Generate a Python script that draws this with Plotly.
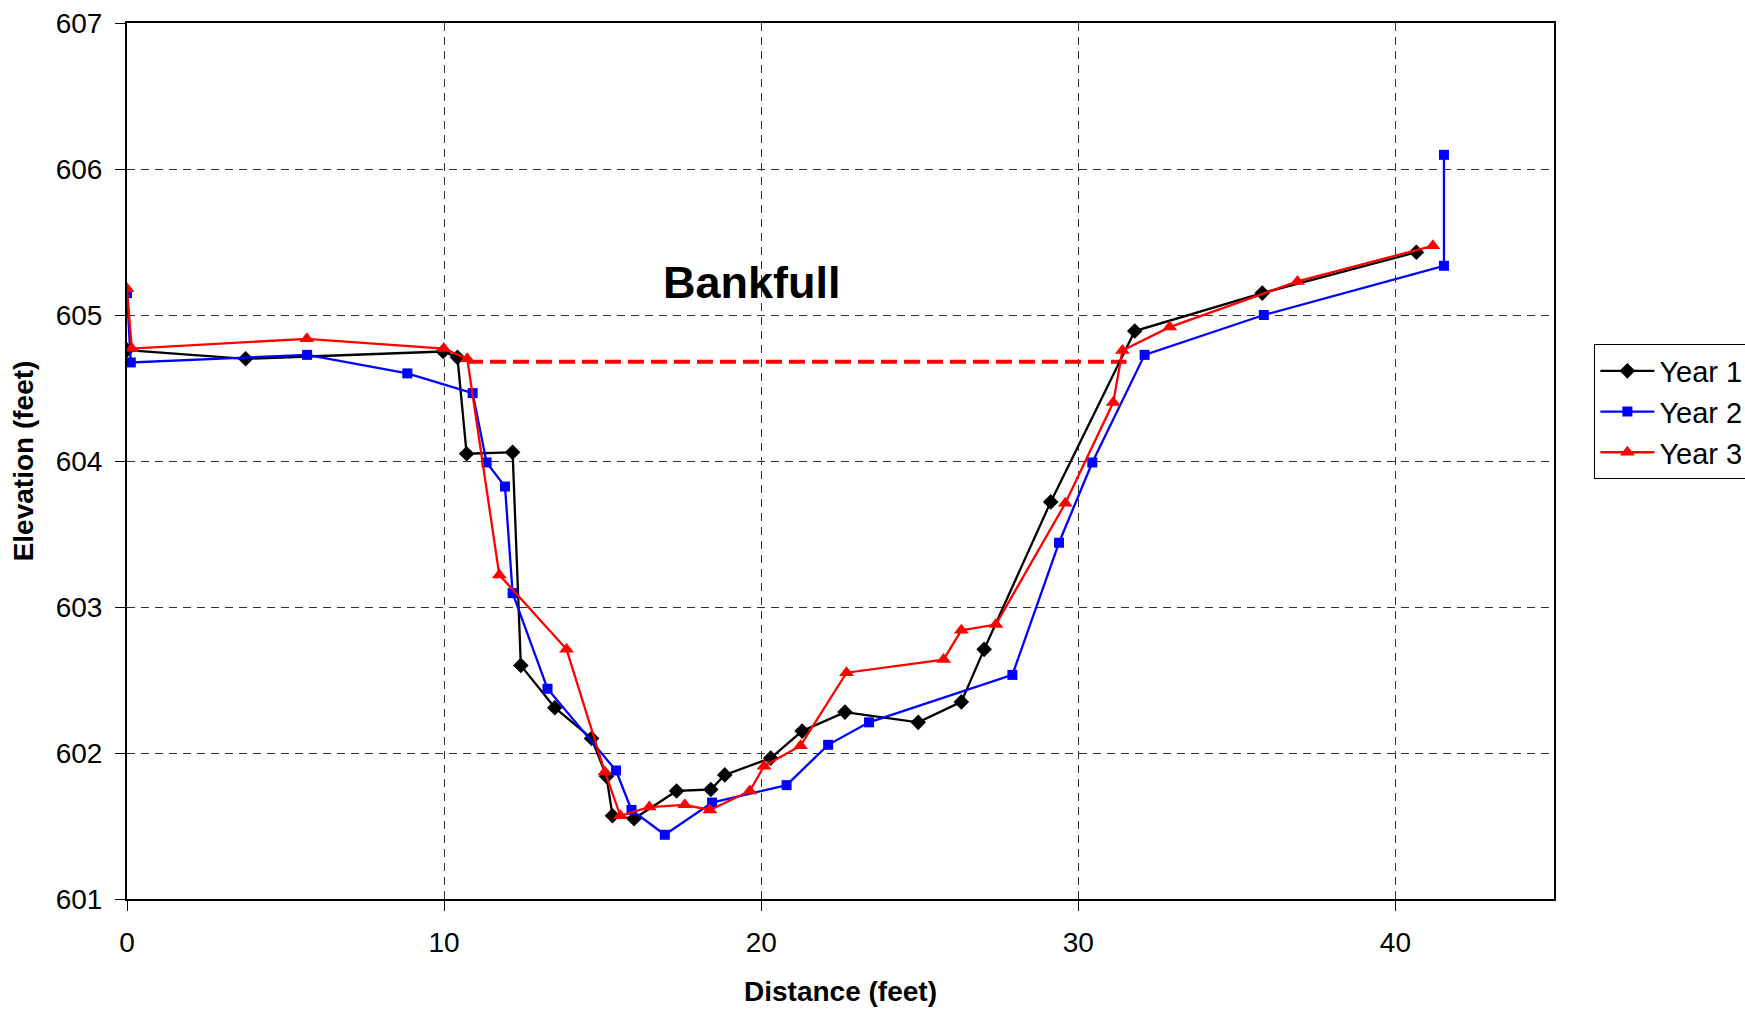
import plotly.graph_objects as go

# Year 1 (black diamonds)
year1_x = [0.0, 3.74, 9.97, 10.42, 10.71, 12.16, 12.42, 13.49, 14.65, 15.12, 15.31, 15.99,
           17.33, 18.41, 18.85, 20.30, 21.29, 22.64, 24.95, 26.31, 27.03, 29.13, 31.78, 35.80, 40.66]
year1_y = [604.76, 604.70, 604.75, 604.71, 604.05, 604.06, 602.60, 602.31, 602.10, 601.84, 601.57, 601.55,
           601.74, 601.75, 601.85, 601.965, 602.15, 602.28, 602.21, 602.35, 602.71, 603.72, 604.89, 605.15, 605.43]

# Year 2 (blue squares)
year2_x = [0.0, 0.12, 5.68, 8.84, 10.90, 11.34, 11.92, 12.16, 13.26, 15.42, 15.91, 16.96, 18.45,
           20.80, 22.11, 23.40, 27.92, 29.39, 30.44, 32.09, 35.85, 41.53, 41.53]
year2_y = [605.15, 604.675, 604.727, 604.60, 604.465, 603.99, 603.825, 603.095, 602.44, 601.88, 601.61, 601.44, 601.66,
           601.78, 602.056, 602.21, 602.535, 603.44, 603.99, 604.727, 605.00, 605.337, 606.097]

# Year 3 (red triangles)
year3_x = [0.0, 0.15, 5.67, 9.99, 10.73, 11.74, 13.86, 15.07, 15.56, 16.47, 17.59, 18.38, 19.64,
           20.09, 21.24, 22.69, 25.75, 26.31, 27.40, 29.59, 31.10, 31.39, 32.88, 36.91, 41.18]
year3_y = [605.18, 604.77, 604.837, 604.77, 604.70, 603.22, 602.71, 601.87, 601.57, 601.63, 601.645, 601.61, 601.74,
           601.91, 602.05, 602.55, 602.64, 602.84, 602.88, 603.71, 604.40, 604.757, 604.917, 605.23, 605.474]

# Bankfull level
bankfull_x = [10.72, 31.52]
bankfull_y = [604.68, 604.68]
bankfull_label = "Bankfull"
bankfull_label_pos = (19.70, 605.22)

x_ticks = [0, 10, 20, 30, 40]
y_ticks = [601, 602, 603, 604, 605, 606, 607]

FONT = "Liberation Sans, Arial, sans-serif"

fig = go.Figure()

fig.add_trace(go.Scatter(
    x=bankfull_x, y=bankfull_y, mode="lines", showlegend=False, hoverinfo="skip",
    line=dict(color="#FF0000", width=4, dash="16px,7px")))

fig.add_trace(go.Scatter(
    x=year1_x, y=year1_y, name="Year 1", mode="lines+markers",
    line=dict(color="#000000", width=2.3),
    marker=dict(symbol="diamond", size=12, color="#000000")))

fig.add_trace(go.Scatter(
    x=year2_x, y=year2_y, name="Year 2", mode="lines+markers",
    line=dict(color="#0000FF", width=2.3),
    marker=dict(symbol="square", size=10, color="#0000FF")))

fig.add_trace(go.Scatter(
    x=year3_x, y=year3_y, name="Year 3", mode="lines+markers",
    line=dict(color="#FF0000", width=2.3),
    marker=dict(symbol="triangle-up", size=13, color="#FF0000")))

fig.add_annotation(
    x=bankfull_label_pos[0], y=bankfull_label_pos[1], text="<b>%s</b>" % bankfull_label,
    showarrow=False, font=dict(family=FONT, size=45, color="#000000"),
    xanchor="center", yanchor="middle")

axis_common = dict(
    showline=True, linecolor="#000000", linewidth=2, mirror=True,
    ticks="outside", ticklen=10, tickwidth=1, tickcolor="#000000",
    showgrid=True, gridcolor="#333333", gridwidth=1, griddash="8px,6px",
    zeroline=False, tickfont=dict(family=FONT, size=28, color="#000000"),
    ticklabelstandoff=7,
)

fig.update_xaxes(
    range=[0, 45], tickvals=x_ticks, ticktext=[str(v) for v in x_ticks],
    title=dict(text="<b>Distance (feet)</b>", font=dict(family=FONT, size=28, color="#000000"), standoff=25),
    **axis_common)
fig.update_yaxes(
    range=[601, 607], tickvals=y_ticks, ticktext=[str(v) for v in y_ticks],
    title=dict(text="<b>Elevation (feet)</b>", font=dict(family=FONT, size=28, color="#000000"), standoff=14),
    **axis_common)

fig.update_layout(
    width=1745, height=1009,
    margin=dict(l=127, r=191, t=23, b=110, autoexpand=False),
    paper_bgcolor="white", plot_bgcolor="white",
    font=dict(family=FONT, color="#000000"),
    legend=dict(
        x=1.0283, y=0.633, xanchor="left", yanchor="top",
        bordercolor="#000000", borderwidth=1, bgcolor="white",
        font=dict(family=FONT, size=29, color="#000000"),
        itemwidth=54, tracegroupgap=0,
    ),
)

fig.write_html("out.html")
